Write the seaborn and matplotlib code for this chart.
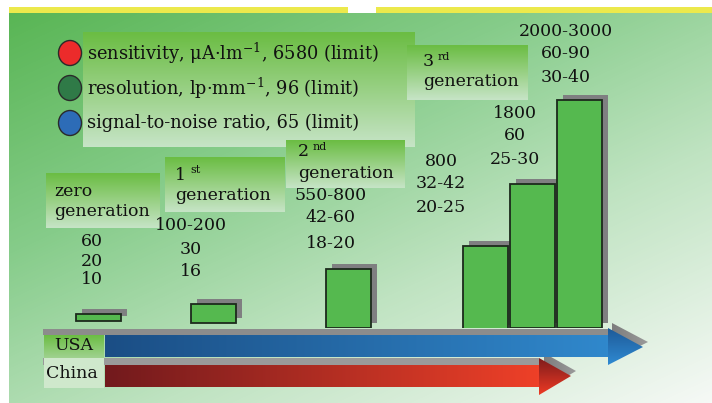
import numpy as np
import matplotlib
matplotlib.use("Agg")
import matplotlib.pyplot as plt
import seaborn as sns
from matplotlib.patches import Polygon, Rectangle, Ellipse
from matplotlib.colors import LinearSegmentedColormap, to_rgb

# ---------------- data ----------------
generations = ["zero", "1", "2", "3", "3", "3"]
gen_suffix = ["", "st", "nd", "rd"]
bar_level = [7, 19, 59, 84, 144, 228]          # relative performance level (bar heights)
sensitivity = ["60", "100-200", "550-800", "800", "1800", "2000-3000"]
resolution = ["20", "30", "42-60", "32-42", "60", "60-90"]
snr = ["10", "16", "18-20", "20-25", "25-30", "30-40"]
legend_labels = ["sensitivity, μA·lm$^{-1}$, 6580 (limit)",
                 "resolution, lp·mm$^{-1}$, 96 (limit)",
                 "signal-to-noise ratio, 65 (limit)"]
legend_colors = ["#ec2b2b", "#2f7a47", "#2d6cb7"]
countries = ["USA", "China"]

# ---------------- style ----------------
sns.set_theme(style="white")
plt.rcParams["font.family"] = ["DejaVu Serif"]
plt.rcParams["mathtext.fontset"] = "dejavuserif"
LFS = 12.8
FS = 12.5
NFS = 12.5

W, H = 712, 403
fig = plt.figure(figsize=(W / 100, H / 100), dpi=100)
ax = fig.add_axes([0, 0, 1, 1])
ax.axis("off")

# background gradient
yy, xx = np.mgrid[13:H, 9:W]
t = np.clip(0.45 * xx / W + 0.55 * yy / H, 0, 1)
cmap_bg = LinearSegmentedColormap.from_list(
    "bg", [(0, "#56b451"), (0.35, "#86cc8a"), (0.65, "#bfe3c1"), (1, "#f6f9f6")])
ax.imshow(cmap_bg(t), extent=(9, W, H, 13), aspect="auto", zorder=0, interpolation="bilinear")

# top yellow rule
ax.add_patch(Rectangle((9, 7), 339, 6, color="#ece94c", lw=0, zorder=1))
ax.add_patch(Rectangle((376, 7), W - 376, 6, color="#ece94c", lw=0, zorder=1))


def grad_rect(x0, y0, x1, y1, ctop, cbot, z=1, alpha=1.0):
    c0, c1 = np.array(to_rgb(ctop)), np.array(to_rgb(cbot))
    s = np.linspace(0, 1, 64)[:, None, None]
    img = c0 * (1 - s) + c1 * s
    img = np.repeat(img, 2, axis=1)
    ax.imshow(img, extent=(x0, x1, y1, y0), aspect="auto", zorder=z,
              interpolation="bilinear", alpha=alpha)


def grad_poly(pts, cleft, cright, z=3, vertical=False):
    poly = Polygon(pts, closed=True, facecolor="none", edgecolor="none")
    ax.add_patch(poly)
    xs = [p[0] for p in pts]
    ys = [p[1] for p in pts]
    c0, c1 = np.array(to_rgb(cleft)), np.array(to_rgb(cright))
    s = np.linspace(0, 1, 128)
    if vertical:
        img = (c0 * (1 - s[:, None]) + c1 * s[:, None])[:, None, :].repeat(2, axis=1)
    else:
        img = (c0 * (1 - s[:, None]) + c1 * s[:, None])[None, :, :].repeat(2, axis=0)
    im = ax.imshow(img, extent=(min(xs), max(xs), max(ys), min(ys)), aspect="auto",
                   zorder=z, interpolation="bilinear")
    im.set_clip_path(poly)


# legend box and entries
grad_rect(83, 32, 415, 147, "#6bbd43", "#c6e4c6")
for i, (lab, col) in enumerate(zip(legend_labels, legend_colors)):
    yc = 53 + 35 * i
    ax.add_patch(Ellipse((70, yc), 23, 25, facecolor=col, edgecolor="#2a2a2a", lw=1, zorder=4))
    ax.text(87, yc, lab, fontsize=LFS, va="center", ha="left", color="#111111", zorder=5)

# generation label boxes
gen_boxes = [(46, 173, 160, 228), (165, 157, 285, 212), (286, 140, 405, 188), (407, 45, 528, 100)]
gen_text_xy = [(54, 191, 211), (175, 175, 195), (298, 152, 174), (423, 62, 82)]
for g, (box, (tx, ty1, ty2)) in enumerate(zip(gen_boxes, gen_text_xy)):
    grad_rect(*box, "#6bbd43", "#c6e4c6", z=2)
    ax.text(tx, ty1, generations[g], fontsize=FS, va="center", ha="left", color="#111111", zorder=5)
    if gen_suffix[g]:
        ax.text(tx + 15, ty1 - 5, gen_suffix[g], fontsize=8, va="center", ha="left",
                color="#111111", zorder=5)
    ax.text(tx, ty2, "generation", fontsize=FS, va="center", ha="left", color="#111111", zorder=5)

# numbers above bars
num_x = [92, 191, 331, 441, 515, 566]
num_y = [(242, 262, 279), (225, 249, 272), (195, 217, 244), (162, 183, 207), (113, 136, 159), (31, 53, 78)]
for i in range(6):
    for j, vals in enumerate((sensitivity, resolution, snr)):
        ax.text(num_x[i], num_y[i][j], vals[i], fontsize=NFS, va="center", ha="center",
                color="#111111", zorder=5)

# ---------------- timeline arrows ----------------
ax.add_patch(Rectangle((43, 329), 565, 6, color="#8c8c8c", lw=0, zorder=2))
ax.add_patch(Rectangle((43, 358), 496, 7, color="#9a9a9a", lw=0, zorder=2))
# blue (USA)
grad_poly([(612, 323), (648, 342), (612, 360)], "#7d7d7d", "#9a9a9a", z=2)
grad_poly([(105, 335), (608, 335), (608, 357), (105, 357)], "#1b4e85", "#3088cc", z=3)
grad_poly([(608, 328), (643, 347), (608, 365)], "#1e5a98", "#2f8ad2", z=3, vertical=True)
# red (China)
grad_poly([(544, 353), (576, 371), (544, 390)], "#7d7d7d", "#9a9a9a", z=2)
grad_poly([(105, 365), (539, 365), (539, 387), (105, 387)], "#721a1d", "#ee4028", z=3)
grad_poly([(539, 358), (571, 376), (539, 395)], "#7e1c1c", "#ee3a24", z=3, vertical=True)
# country boxes
grad_rect(44, 335, 104, 358, "#6bbd43", "#9fd28f", z=3)
ax.add_patch(Rectangle((44, 358), 60, 30, color="#cfe8cc", lw=0, zorder=3))
ax.text(74, 346, countries[0], fontsize=FS, va="center", ha="center", color="#111111", zorder=5)
ax.text(72, 373, countries[1], fontsize=FS, va="center", ha="center", color="#111111", zorder=5)

ax.set_xlim(0, W)
ax.set_ylim(H, 0)

# ---------------- bars (seaborn) ----------------
base_px = 328
axb = fig.add_axes([0, (H - base_px) / H, 1, base_px / H])
axb.patch.set_alpha(0)
bar_x = [98, 213.5, 348, 485, 532.5, 579.5]
bar_lift = [7, 5, 0, -2, 0, 0]
bw = 45 / 47

sns.barplot(x=bar_x, y=bar_level, native_scale=True, width=bw, color="#7f7f81",
            errorbar=None, ax=axb, saturation=1, linewidth=0, zorder=2)
shadows = list(axb.patches)
for p, lift in zip(shadows, bar_lift):
    p.set_x(p.get_x() + 6)
    p.set_y(p.get_y() + lift + 5)
sns.barplot(x=bar_x, y=bar_level, native_scale=True, width=bw, color="#55b94f",
            errorbar=None, ax=axb, saturation=1, edgecolor="#1c2a1c", linewidth=1.3, zorder=3)
fronts = [p for p in axb.patches if p not in shadows]
for p, lift in zip(fronts, bar_lift):
    p.set_y(p.get_y() + lift)

axb.set_xlim(0, W)
axb.set_ylim(0, base_px)
axb.axis("off")

fig.savefig("out.png", dpi=100)
